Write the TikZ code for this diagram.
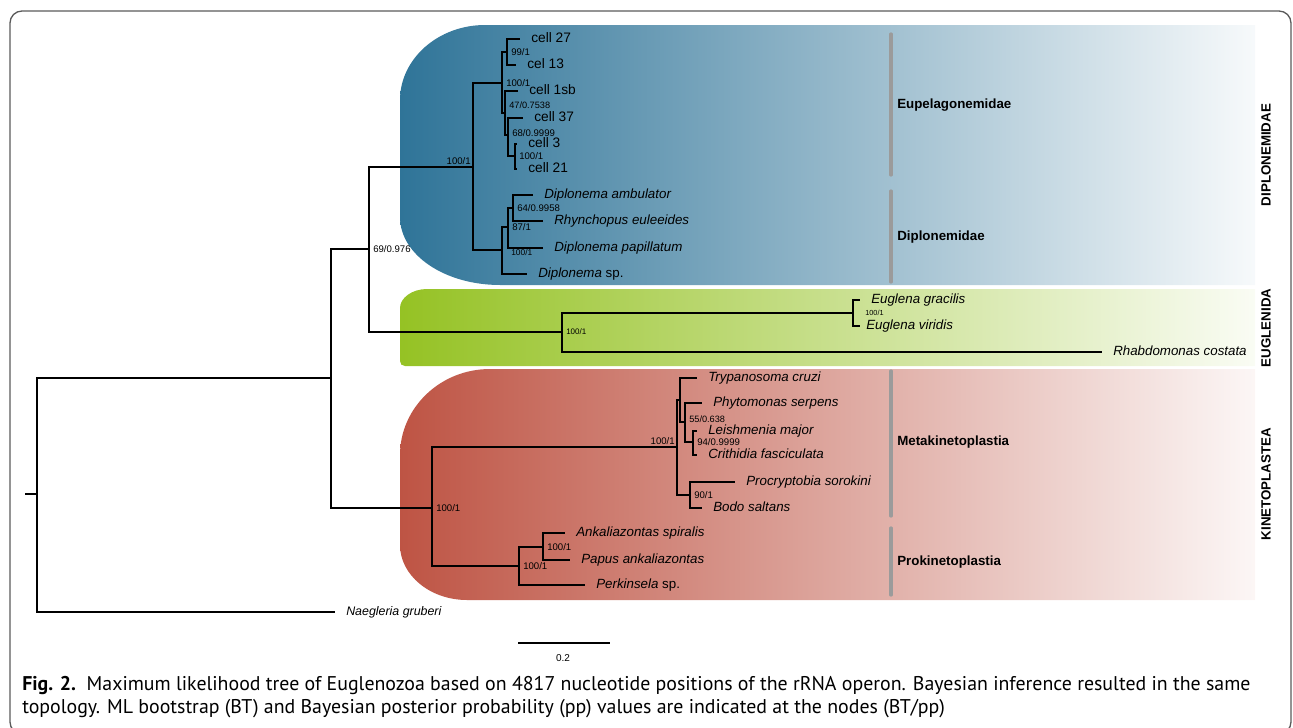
\documentclass[tikz,border=0pt]{standalone}
\usepackage{fontspec}
\setmainfont{Liberation Sans}
\newfontfamily\capfont{PT Sans}
\usetikzlibrary{positioning,calc}
\definecolor{dipc}{HTML}{2F7498}
\definecolor{eugc}{HTML}{95C224}
\definecolor{kinc}{HTML}{BE5444}
\definecolor{barc}{HTML}{9B9B9B}
\definecolor{framec}{HTML}{5A5A5A}

\begin{document}
\begin{tikzpicture}[x=0.75pt,y=-0.75pt,
    br/.style={line width=0.9pt,black},
    tip/.style={anchor=west,inner xsep=8.25pt,inner ysep=0pt,text height=6.6pt,text depth=2pt,font=\fontsize{10}{12}\selectfont\itshape},
    celltip/.style={tip,font=\fontsize{10.3}{12}\selectfont},
    supp/.style={anchor=west,inner xsep=3pt,inner ysep=0pt,font=\fontsize{7.2}{8}\selectfont},
    grpbar/.style={line width=2.4pt,barc,line cap=round},
    grp/.style={anchor=west,inner sep=0pt,font=\fontsize{10}{12}\selectfont\bfseries},
    clade/.style={rotate=90,inner sep=0pt,font=\fontsize{10}{12}\selectfont\bfseries}]
  \useasboundingbox (0,0) rectangle (1293,728);
  \draw[framec,line width=1pt,rounded corners=9] (10,11) rectangle (1291,734);

  % coloured clade bands
  \shade[left color=dipc,right color=dipc!4!white] (1255,25) -- (485,25) .. controls (438,25) and (400,59) .. (400,100) -- (400,217) .. controls (400,255) and (445,285) .. (500,285) -- (1255,285) -- cycle;
  \shade[left color=eugc,right color=eugc!5!white] (1255,289) -- (427,289) .. controls (412,289) and (400,298) .. (400,308) -- (400,361) .. controls (400,364) and (402,366) .. (405,366) -- (1255,366) -- cycle;
  \shade[left color=kinc,right color=kinc!5!white] (1255,369) -- (490,369) .. controls (440,369) and (400,408) .. (400,455) -- (400,545) .. controls (400,575) and (430,600) .. (467,600) -- (1255,600) -- cycle;

  % group bars
  \draw[grpbar] (891,34) -- (891,175);
  \draw[grpbar] (891,191) -- (891,282);
  \draw[grpbar] (891,371) -- (891,516);
  \draw[grpbar] (891,528) -- (891,595);
  \node[grp] (gEup) at (897,105) {Eupelagonemidae};
  \node[grp] (gDip) at (897,237) {Diplonemidae};
  \node[grp] (gMet) at (897,442) {Metakinetoplastia};
  \node[grp] (gPro) at (897,562) {Prokinetoplastia};
  \node[clade] (cDip) at (1266,155) {DIPLONEMIDAE};
  \node[clade] (cEug) at (1266,328) {EUGLENIDA};
  \node[clade] (cKin) at (1266,484) {KINETOPLASTEA};

  % internal nodes
  \coordinate (r0) at (25,494);
  \coordinate (root) at (37,494);
  \coordinate (nIn) at (331,378);
  \coordinate (nDE) at (369,249);
  \coordinate (nDip) at (473,167);
  \coordinate (nCell) at (502,83);
  \coordinate (nC1) at (507,52);
  \coordinate (nC2) at (505,113);
  \coordinate (nC3) at (508,135);
  \coordinate (nC4) at (515,156);
  \coordinate (nDipl) at (502,250);
  \coordinate (nG) at (508,227);
  \coordinate (nH) at (513,208);
  \coordinate (nEug) at (562,332);
  \coordinate (nEg) at (853,313);
  \coordinate (nKin) at (432,508);
  \coordinate (nMeta) at (677,447);
  \coordinate (nTry) at (680,400);
  \coordinate (nPhy) at (685,422);
  \coordinate (nLei) at (693,442);
  \coordinate (nBod) at (690,495);
  \coordinate (nPro) at (519,566);
  \coordinate (nAnk) at (543,547);

  % tips
  \node[tip,font=\fontsize{9.3}{11}\selectfont\itshape] (tNae) at (335,612) {Naegleria gruberi};
  \node[celltip] (tc27) at (520,39) {cell 27};
  \node[celltip] (tc13) at (516,65) {cel 13};
  \node[celltip] (tc1sb) at (518,91) {cell 1sb};
  \node[celltip] (tc37) at (523,118) {cell 37};
  \node[celltip] (tc3) at (517,144) {cell 3};
  \node[celltip] (tc21) at (517,169) {cell 21};
  \node[tip] (tDamb) at (533,195) {Diplonema ambulator};
  \node[tip] (tRhy) at (543,221) {Rhynchopus euleeides};
  \node[tip] (tDpap) at (543,248) {Diplonema papillatum};
  \node[tip] (tDsp) at (527,274) {Diplonema \textup{sp.}};
  \node[tip] (tEgr) at (860,300) {Euglena gracilis};
  \node[tip,inner xsep=4.5pt] (tEvi) at (860,326) {Euglena viridis};
  \node[tip] (tRha) at (1102,352) {Rhabdomonas costata};
  \node[tip] (tTry) at (697,378) {Trypanosoma cruzi};
  \node[tip] (tPhy) at (702,403) {Phytomonas serpens};
  \node[tip] (tLei) at (697,431) {Leishmenia major};
  \node[tip] (tCri) at (697,455) {Crithidia fasciculata};
  \node[tip] (tPrc) at (735,482) {Procryptobia sorokini};
  \node[tip] (tBod) at (702,508) {Bodo saltans};
  \node[tip] (tAnk) at (565,533) {Ankaliazontas spiralis};
  \node[tip] (tPap) at (570,560) {Papus ankaliazontas};
  \node[tip] (tPer) at (585,585) {Perkinsela \textup{sp.}};

  % branches
  \draw[br] (r0) -- (root);
  \draw[br] (root) |- (nIn);
  \draw[br] (root) |- (tNae.west);
  \draw[br] (nIn) |- (nDE);
  \draw[br] (nIn) |- (nKin);
  \draw[br] (nDE) |- (nDip);
  \draw[br] (nDE) |- (nEug);
  \draw[br] (nDip) |- (nCell);
  \draw[br] (nDip) |- (nDipl);
  \draw[br] (nCell) |- (nC1);
  \draw[br] (nCell) |- (nC2);
  \draw[br] (nC1) |- (tc27.west);
  \draw[br] (nC1) |- (tc13.west);
  \draw[br] (nC2) |- (tc1sb.west);
  \draw[br] (nC2) |- (nC3);
  \draw[br] (nC3) |- (tc37.west);
  \draw[br] (nC3) |- (nC4);
  \draw[br] (nC4) |- (tc3.west);
  \draw[br] (nC4) |- (tc21.west);
  \draw[br] (nDipl) |- (nG);
  \draw[br] (nDipl) |- (tDsp.west);
  \draw[br] (nG) |- (nH);
  \draw[br] (nG) |- (tDpap.west);
  \draw[br] (nH) |- (tDamb.west);
  \draw[br] (nH) |- (tRhy.west);
  \draw[br] (nEug) |- (nEg);
  \draw[br] (nEug) |- (tRha.west);
  \draw[br] (nEg) |- (tEgr.west);
  \draw[br] (nEg) |- (tEvi.west);
  \draw[br] (nKin) |- (nMeta);
  \draw[br] (nKin) |- (nPro);
  \draw[br] (nMeta) |- (nTry);
  \draw[br] (nMeta) |- (nBod);
  \draw[br] (nTry) |- (tTry.west);
  \draw[br] (nTry) |- (nPhy);
  \draw[br] (nPhy) |- (tPhy.west);
  \draw[br] (nPhy) |- (nLei);
  \draw[br] (nLei) |- (tLei.west);
  \draw[br] (nLei) |- (tCri.west);
  \draw[br] (nBod) |- (tPrc.west);
  \draw[br] (nBod) |- (tBod.west);
  \draw[br] (nPro) |- (nAnk);
  \draw[br] (nPro) |- (tPer.west);
  \draw[br] (nAnk) |- (tAnk.west);
  \draw[br] (nAnk) |- (tPap.west);

  % support values (BT/pp)
  \node[supp] at (nDE) {69/0.976};
  \node[supp,anchor=south east,inner sep=1.5pt] at (nDip) {100/1};
  \node[supp] at (nCell) {100/1};
  \node[supp] at (nC1) {99/1};
  \node[supp,font=\fontsize{6.9}{8}\selectfont] at ($(nC2)+(0,-8)$) {47/0.7538};
  \node[supp] at ($(nC3)+(0,-2)$) {68/0.9999};
  \node[supp] at (nC4) {100/1};
  \node[supp] at (nH) {64/0.9958};
  \node[supp] at (nG) {87/1};
  \node[supp,font=\fontsize{6.3}{7}\selectfont] at ($(nDipl)+(5,2)$) {100/1};
  \node[supp,font=\fontsize{6}{7}\selectfont] at (nEug) {100/1};
  \node[supp,font=\fontsize{5.5}{7}\selectfont] at ($(nEg)+(8,0)$) {100/1};
  \node[supp] at (nKin) {100/1};
  \node[supp,anchor=south east,inner sep=1.5pt] at (nMeta) {100/1};
  \node[supp,font=\fontsize{6.9}{8}\selectfont] at ($(nPhy)+(0,-3)$) {55/0.638};
  \node[supp] at (nLei) {94/0.9999};
  \node[supp] at (nBod) {90/1};
  \node[supp] at (nPro) {100/1};
  \node[supp] at (nAnk) {100/1};

  % scale bar
  \coordinate (sb0) at (518,643);
  \coordinate (sb1) at (610,643);
  \draw[line width=0.8pt] (sb0) -- (sb1);
  \node[font=\fontsize{7.5}{9}\selectfont] (sbl) at (563,658) {0.2};

  % caption
  \node[anchor=west,inner sep=0pt,font=\capfont\fontsize{14.9}{17}\selectfont] (cap1) at (22,686) {\textbf{Fig. 2.}\ \ Maximum likelihood tree of Euglenozoa based on 4817 nucleotide positions of the rRNA operon. Bayesian inference resulted in the same};
  \node[anchor=west,inner sep=0pt,font=\capfont\fontsize{14.9}{17}\selectfont] (cap2) at (22,709) {topology. ML bootstrap (BT) and Bayesian posterior probability (pp) values are indicated at the nodes (BT/pp)};
\end{tikzpicture}
\end{document}
